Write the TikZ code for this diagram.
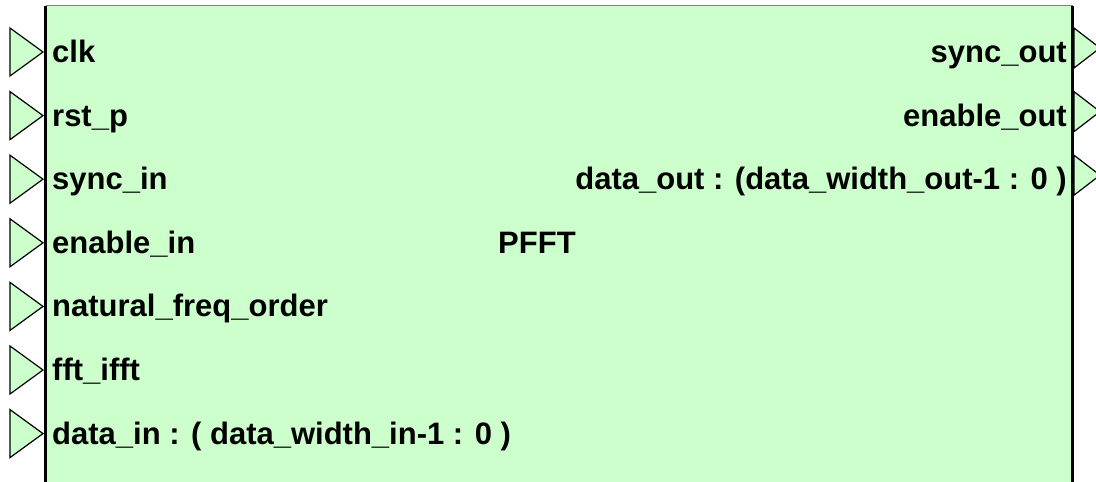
\documentclass[tikz,border=0pt]{standalone}
\usepackage{fontspec}
\newfontfamily\portfont{Liberation Sans}
\definecolor{blockgreen}{RGB}{204,255,204}

\begin{document}
\begin{tikzpicture}
[   x=1pt, y=-1pt,
    pin/.style={draw=black, line width=1.2pt, fill=blockgreen, line join=miter},
    lbl/.style={inner sep=0pt, font=\portfont\fontsize{31}{34}\selectfont\bfseries}, ]

    \useasboundingbox (0,0) rectangle (1096,482);
    \clip (0,0) rectangle (1096,482);

    % block body
    \fill[blockgreen] (46,5) rectangle (1072,490);

\foreach \name [count=\i from 0] in {clk,rst\_p,sync\_in,enable\_in,natural\_freq\_order,fft\_ifft,{data\_in : ( data\_width\_in-1 : 0 )}}
{
 \pgfmathsetmacro\row{52+63.6*\i}

    \draw[pin] (10,\row-24) -- (43,\row) -- (10,\row+24) -- cycle;
    \node[lbl, anchor=base west] (in\i) at (52,\row+10.5) {\name};
}

\foreach \name [count=\i from 0] in {sync\_out,enable\_out,{data\_out : (data\_width\_out-1 : 0 )}}
{
 \pgfmathsetmacro\row{52+63.6*\i}

    \draw[pin] (1074,\row-24) -- (1100,\row-4) -- (1074,\row+16) -- cycle;
    \node[lbl, anchor=base east] (out\i) at (1067,\row+10.5) {\name};
}

    \node[lbl, anchor=base west] (block) at (498,253) {PFFT};

    % block borders
    \draw[gray, line width=1pt] (46,5) -- (1073,5);
    \draw[line width=3pt] (45.5,6) -- (45.5,490);
    \draw[line width=3pt] (1072.5,6) -- (1072.5,490);

\end{tikzpicture}
\end{document}
